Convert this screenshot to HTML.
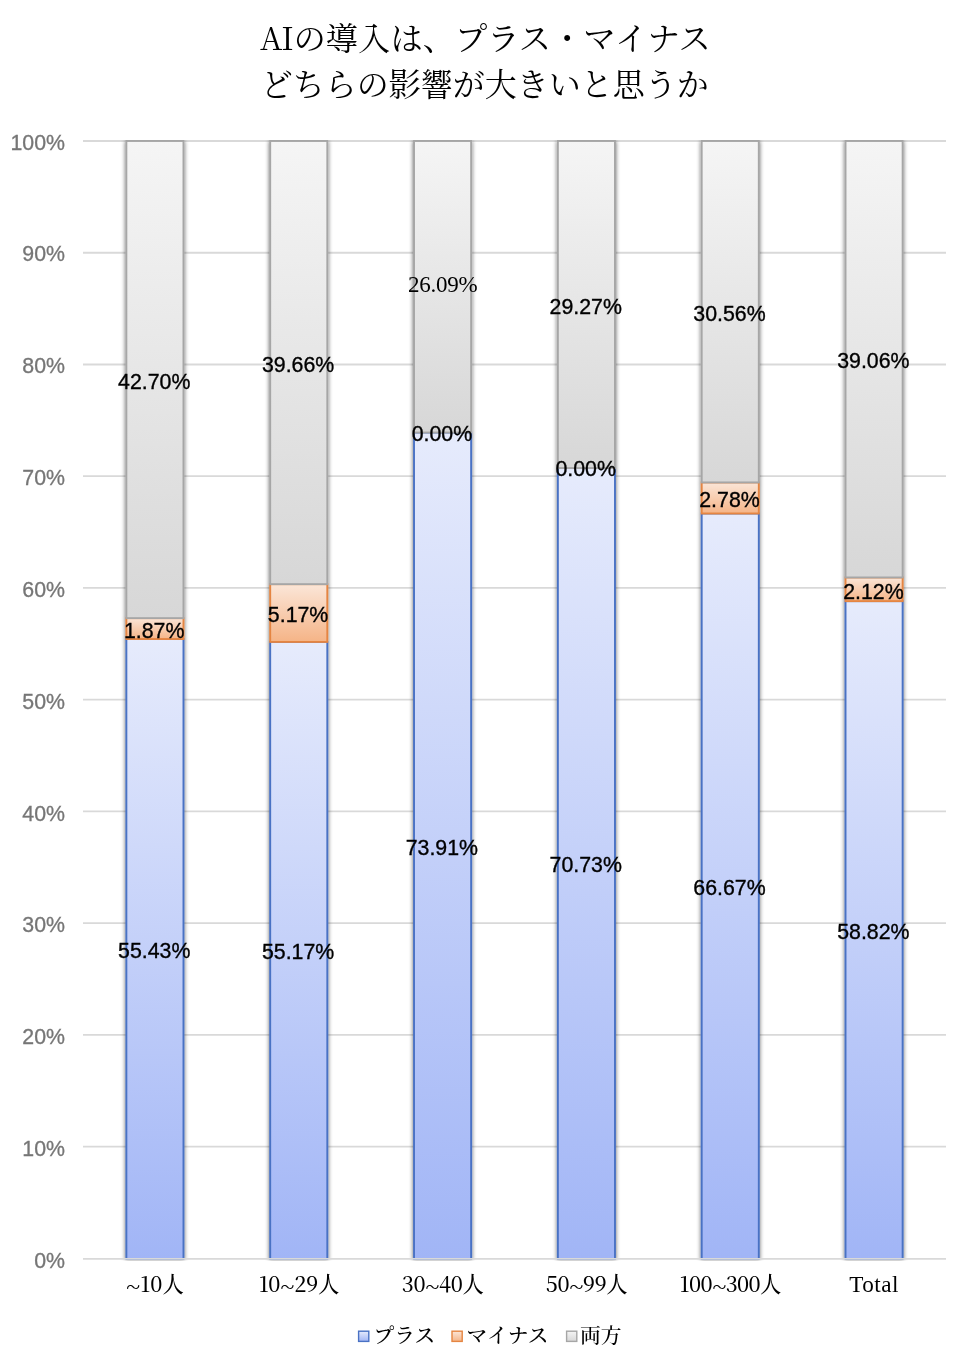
<!DOCTYPE html>
<html lang="ja"><head><meta charset="utf-8"><title>AIの導入は、プラス・マイナスどちらの影響が大きいと思うか</title>
<style>
html,body{margin:0;padding:0;background:#fff;}
body{width:974px;height:1372px;position:relative;overflow:hidden;font-family:"Liberation Sans","Noto Sans CJK JP",sans-serif;}
.title{position:absolute;left:0;width:974px;text-align:center;font-family:"Liberation Serif","Noto Serif CJK JP","Noto Serif CJK SC",serif;font-size:32px;color:#000;white-space:nowrap;line-height:40px;}
.ai{font-family:"Noto Serif CJK JP","Noto Serif CJK SC",serif;line-height:0;font-size:31px;letter-spacing:-0.5px;}
svg{position:absolute;left:0;top:0;}
.yl{position:absolute;left:0;width:65px;text-align:right;font-size:21.33px;line-height:24px;color:#767676;-webkit-text-stroke:0.3px #767676;}
.dl{position:absolute;width:120px;text-align:center;font-size:21.33px;line-height:24px;color:#000;white-space:nowrap;-webkit-text-stroke:0.35px #000;}
.dl.s{font-family:"Liberation Serif",serif;color:#000;font-size:23px;letter-spacing:-0.25px;-webkit-text-stroke:0;margin:-3.6px 0 0 0.8px;}
.xl{position:absolute;width:144px;text-align:center;font-family:"Noto Serif CJK JP","Noto Serif CJK SC","Liberation Serif",serif;font-size:21.33px;line-height:24px;color:#000;font-weight:500;white-space:nowrap;}
.xl.tt{font-family:"Liberation Serif",serif;font-weight:400;font-size:23.2px;letter-spacing:0.45px;margin-top:1.2px;}
.td{display:inline-block;transform:translateY(2.6px) scaleX(1.22);margin:0 0.9px;}
.lg{position:absolute;font-family:"Noto Serif CJK JP","Noto Serif CJK SC","Liberation Serif",serif;font-size:20.8px;line-height:24px;color:#000;font-weight:500;white-space:nowrap;}
</style></head><body>
<div class="title" style="top:19.3px;left:-1.7px;font-size:32.35px"><span class="ai">AI</span>の導入は、プラス・マイナス</div>
<div class="title" style="top:64.8px;left:-2.3px">どちらの影響が大きいと思うか</div>
<svg width="974" height="1372" viewBox="0 0 974 1372">
<defs>
<linearGradient id="gb" x1="0" y1="0" x2="0" y2="1"><stop offset="0" stop-color="#e6ebfc"/><stop offset="1" stop-color="#a1b5f6"/></linearGradient>
<linearGradient id="go" x1="0" y1="0" x2="0" y2="1"><stop offset="0" stop-color="#fbe6d8"/><stop offset="1" stop-color="#f5b487"/></linearGradient>
<linearGradient id="gg" x1="0" y1="0" x2="0" y2="1"><stop offset="0" stop-color="#f5f5f5"/><stop offset="1" stop-color="#d7d7d7"/></linearGradient>
<filter id="sh" x="-20%" y="-2%" width="140%" height="104%"><feGaussianBlur in="SourceAlpha" stdDeviation="1.9"/><feOffset dx="0" dy="0.6"/><feComponentTransfer><feFuncA type="linear" slope="0.6"/></feComponentTransfer><feMerge><feMergeNode/><feMergeNode in="SourceGraphic"/></feMerge></filter>
<clipPath id="cp"><rect x="0" y="139.9" width="974" height="1120.6"/></clipPath>
</defs>
<g stroke="#d9d9d9" stroke-width="1.8">
<line x1="83" x2="946" y1="1146.66" y2="1146.66"/>
<line x1="83" x2="946" y1="1034.92" y2="1034.92"/>
<line x1="83" x2="946" y1="923.18" y2="923.18"/>
<line x1="83" x2="946" y1="811.44" y2="811.44"/>
<line x1="83" x2="946" y1="699.70" y2="699.70"/>
<line x1="83" x2="946" y1="587.96" y2="587.96"/>
<line x1="83" x2="946" y1="476.22" y2="476.22"/>
<line x1="83" x2="946" y1="364.48" y2="364.48"/>
<line x1="83" x2="946" y1="252.74" y2="252.74"/>
<line x1="83" x2="946" y1="141.00" y2="141.00"/>
</g>
<g clip-path="url(#cp)">
<g filter="url(#sh)" stroke-width="1.9">
<rect x="126.37" y="639.03" width="57.10" height="619.97" fill="url(#gb)" stroke="#4a72c4"/>
<rect x="126.37" y="618.13" width="57.10" height="20.90" fill="url(#go)" stroke="#e58542"/>
<rect x="126.37" y="141.00" width="57.10" height="477.13" fill="url(#gg)" stroke="#a6a6a6"/>
</g>
<g filter="url(#sh)" stroke-width="1.9">
<rect x="270.20" y="641.93" width="57.10" height="617.07" fill="url(#gb)" stroke="#4a72c4"/>
<rect x="270.20" y="584.16" width="57.10" height="57.77" fill="url(#go)" stroke="#e58542"/>
<rect x="270.20" y="141.00" width="57.10" height="443.16" fill="url(#gg)" stroke="#a6a6a6"/>
</g>
<g filter="url(#sh)" stroke-width="1.9">
<rect x="414.03" y="432.53" width="57.10" height="826.47" fill="url(#gb)" stroke="#4a72c4"/>
<rect x="414.03" y="141.00" width="57.10" height="291.53" fill="url(#gg)" stroke="#a6a6a6"/>
</g>
<g filter="url(#sh)" stroke-width="1.9">
<rect x="557.87" y="468.06" width="57.10" height="790.94" fill="url(#gb)" stroke="#4a72c4"/>
<rect x="557.87" y="141.00" width="57.10" height="327.06" fill="url(#gg)" stroke="#a6a6a6"/>
</g>
<g filter="url(#sh)" stroke-width="1.9">
<rect x="701.70" y="513.50" width="57.10" height="745.50" fill="url(#gb)" stroke="#4a72c4"/>
<rect x="701.70" y="482.44" width="57.10" height="31.06" fill="url(#go)" stroke="#e58542"/>
<rect x="701.70" y="141.00" width="57.10" height="341.44" fill="url(#gg)" stroke="#a6a6a6"/>
</g>
<g filter="url(#sh)" stroke-width="1.9">
<rect x="845.53" y="601.15" width="57.10" height="657.85" fill="url(#gb)" stroke="#4a72c4"/>
<rect x="845.53" y="577.46" width="57.10" height="23.69" fill="url(#go)" stroke="#e58542"/>
<rect x="845.53" y="141.00" width="57.10" height="436.46" fill="url(#gg)" stroke="#a6a6a6"/>
</g>
</g>
<line x1="83" x2="946" y1="1258.80" y2="1258.80" stroke="#d9d9d9" stroke-width="1.8"/>
<rect x="358.60" y="1331.2" width="10.2" height="10.2" fill="url(#gb)" stroke="#4a72c4" stroke-width="1.4"/>
<rect x="452.00" y="1331.2" width="10.2" height="10.2" fill="url(#go)" stroke="#e58542" stroke-width="1.4"/>
<rect x="566.60" y="1331.2" width="10.2" height="10.2" fill="url(#gg)" stroke="#a6a6a6" stroke-width="1.4"/>
</svg>
<div class="yl" style="top:1248.9px">0%</div>
<div class="yl" style="top:1137.1px">10%</div>
<div class="yl" style="top:1025.2px">20%</div>
<div class="yl" style="top:913.4px">30%</div>
<div class="yl" style="top:801.6px">40%</div>
<div class="yl" style="top:689.8px">50%</div>
<div class="yl" style="top:577.9px">60%</div>
<div class="yl" style="top:466.1px">70%</div>
<div class="yl" style="top:354.3px">80%</div>
<div class="yl" style="top:242.4px">90%</div>
<div class="yl" style="top:130.6px">100%</div>
<div class="dl" style="left:94.2px;top:938.9px">55.43%</div>
<div class="dl" style="left:94.2px;top:618.8px">1.87%</div>
<div class="dl" style="left:94.2px;top:369.8px">42.70%</div>
<div class="xl" style="left:82.9px;top:1271.3px;letter-spacing:0.00px"><span class="td">~</span>10人</div>
<div class="dl" style="left:238.1px;top:940.4px">55.17%</div>
<div class="dl" style="left:238.1px;top:603.2px">5.17%</div>
<div class="dl" style="left:238.1px;top:352.8px">39.66%</div>
<div class="xl" style="left:226.8px;top:1271.3px;letter-spacing:-0.30px">10<span class="td">~</span>29人</div>
<div class="dl" style="left:381.9px;top:835.7px">73.91%</div>
<div class="dl" style="left:381.9px;top:421.7px">0.00%</div>
<div class="dl s" style="left:381.9px;top:277.0px">26.09%</div>
<div class="xl" style="left:370.6px;top:1271.3px;letter-spacing:-0.40px">30<span class="td">~</span>40人</div>
<div class="dl" style="left:525.7px;top:853.4px">70.73%</div>
<div class="dl" style="left:525.7px;top:457.3px">0.00%</div>
<div class="dl" style="left:525.7px;top:294.7px">29.27%</div>
<div class="xl" style="left:514.4px;top:1271.3px;letter-spacing:-0.50px">50<span class="td">~</span>99人</div>
<div class="dl" style="left:669.5px;top:876.2px">66.67%</div>
<div class="dl" style="left:669.5px;top:488.2px">2.78%</div>
<div class="dl" style="left:669.5px;top:301.9px">30.56%</div>
<div class="xl" style="left:658.2px;top:1271.3px;letter-spacing:-0.60px">100<span class="td">~</span>300人</div>
<div class="dl" style="left:813.4px;top:920.0px">58.82%</div>
<div class="dl" style="left:813.4px;top:579.5px">2.12%</div>
<div class="dl" style="left:813.4px;top:349.4px">39.06%</div>
<div class="xl tt" style="left:802.1px;top:1271.3px">Total</div>
<div class="lg" style="left:373.5px;top:1322px">プラス</div>
<div class="lg" style="left:466.5px;top:1322px">マイナス</div>
<div class="lg" style="left:580px;top:1322px">両方</div>
</body></html>
